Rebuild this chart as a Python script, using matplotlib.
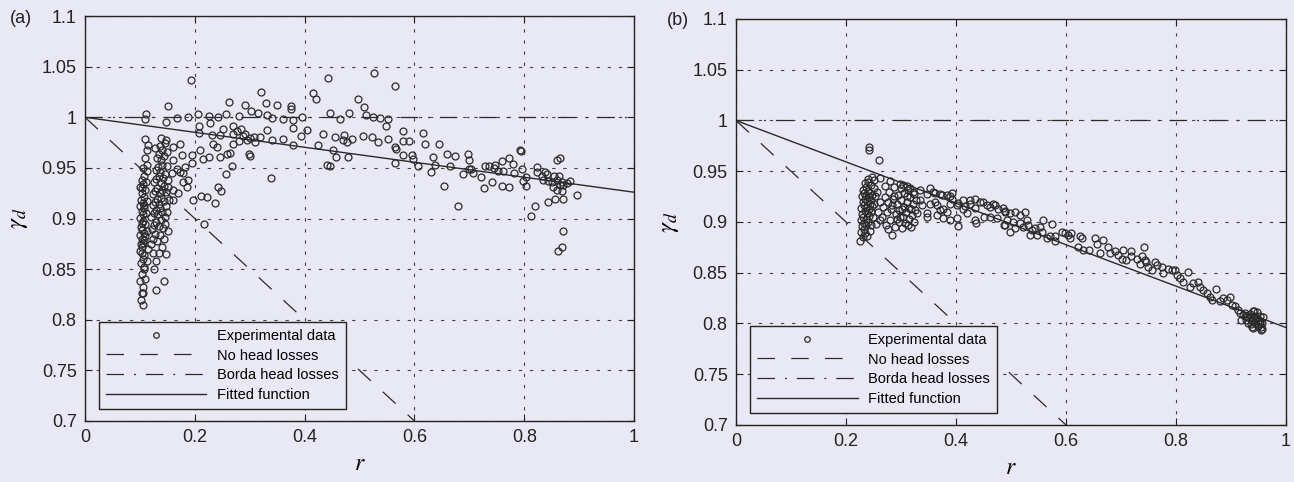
import numpy as np
import matplotlib.pyplot as plt

plt.rcParams['font.family'] = ['Liberation Sans', 'DejaVu Sans']
plt.rcParams['mathtext.fontset'] = 'stix'

# ---- theoretical / fitted curves
nohead_r = [0.0, 0.6]
nohead_g = [1.0, 0.7]
borda_r = [0.0, 1.0]
borda_g = [1.0, 1.0]
fit_r = [0.0, 1.0]
fit_a = [1.0, 0.926]
fit_b = [1.0, 0.796]

xticks = [0, 0.2, 0.4, 0.6, 0.8, 1]
xlabels = ['0', '0.2', '0.4', '0.6', '0.8', '1']
yticks = [0.7, 0.75, 0.8, 0.85, 0.9, 0.95, 1.0, 1.05, 1.1]
ylabels = ['0.7', '0.75', '0.8', '0.85', '0.9', '0.95', '1', '1.05', '1.1']

# ---- panel (a) experimental points (r, gamma_d)
a_col1 = [(0.102,0.820),(0.105,0.815),(0.103,0.826),(0.106,0.832),(0.101,0.838),(0.104,0.845),
          (0.107,0.850),(0.102,0.856),(0.105,0.860),(0.108,0.864),(0.101,0.868),(0.104,0.872),
          (0.106,0.876),(0.103,0.880),(0.100,0.884),(0.107,0.886),(0.104,0.889),(0.102,0.892),
          (0.109,0.895),(0.105,0.898),(0.101,0.901),(0.106,0.904),(0.103,0.907),(0.108,0.910),
          (0.100,0.912),(0.105,0.915),(0.102,0.918),(0.107,0.921),(0.104,0.925),(0.110,0.928),
          (0.101,0.931),(0.106,0.934),(0.103,0.938),(0.108,0.942),(0.112,0.947),(0.105,0.950),
          (0.113,0.953),(0.110,0.960),(0.112,0.968),(0.115,0.973),(0.109,0.979),(0.110,0.998),
          (0.111,1.003),(0.104,0.866),(0.108,0.879),(0.112,0.888),(0.111,0.905),(0.113,0.917),
          (0.111,0.936),(0.109,0.840),(0.106,0.826),(0.112,0.858),(0.114,0.870),(0.103,0.896),
          (0.107,0.913),(0.104,0.930),(0.109,0.883),(0.102,0.875),(0.108,0.852)]
a_col2 = [(0.120,0.875),(0.124,0.880),(0.128,0.885),(0.132,0.878),(0.136,0.884),(0.122,0.890),
          (0.126,0.894),(0.130,0.897),(0.134,0.893),(0.138,0.899),(0.142,0.891),(0.121,0.902),
          (0.125,0.905),(0.129,0.908),(0.133,0.904),(0.137,0.910),(0.141,0.906),(0.145,0.902),
          (0.123,0.913),(0.127,0.916),(0.131,0.919),(0.135,0.914),(0.139,0.920),(0.143,0.917),
          (0.147,0.912),(0.124,0.924),(0.128,0.927),(0.132,0.930),(0.136,0.925),(0.140,0.928),
          (0.144,0.932),(0.126,0.936),(0.130,0.939),(0.134,0.942),(0.138,0.935),(0.142,0.940),
          (0.146,0.944),(0.129,0.948),(0.133,0.951),(0.137,0.946),(0.141,0.953),(0.131,0.960),
          (0.135,0.964),(0.139,0.958),(0.143,0.962),(0.128,0.970),(0.136,0.972),(0.140,0.968),
          (0.145,0.975),(0.138,0.980),(0.147,0.978),(0.149,0.966),(0.150,0.952),(0.152,0.938),
          (0.148,0.926),(0.153,0.918),(0.149,0.906),(0.146,0.895),(0.151,0.888),(0.144,0.880),
          (0.140,0.872),(0.135,0.866),(0.130,0.858),(0.125,0.850),(0.143,0.838),(0.130,0.829),
          (0.147,0.865),(0.124,0.866)]
a_mid = [(0.152,1.011),(0.168,0.999),(0.148,0.995),(0.188,1.000),(0.206,1.003),(0.226,1.001),
         (0.243,1.000),(0.256,1.003),(0.263,1.015),(0.280,1.001),(0.291,1.012),(0.303,1.006),
         (0.315,1.004),(0.320,1.025),(0.329,1.014),(0.350,1.012),(0.375,1.011),(0.375,1.008),
         (0.331,1.002),(0.340,0.999),(0.361,0.998),(0.379,0.997),(0.395,1.000),(0.404,0.987),
         (0.394,0.982),(0.379,0.989),(0.193,1.037),(0.208,0.991),(0.208,0.985),(0.228,0.994),
         (0.232,0.983),(0.246,0.983),(0.251,0.988),(0.270,0.991),(0.270,0.984),(0.281,0.977),
         (0.291,0.984),(0.295,0.978),(0.307,0.981),(0.319,0.981),(0.331,0.987),(0.340,0.978),
         (0.361,0.979),(0.379,0.973),(0.194,0.963),(0.194,0.955),(0.209,0.968),(0.215,0.959),
         (0.226,0.961),(0.234,0.974),(0.240,0.971),(0.246,0.961),(0.258,0.964),(0.264,0.965),
         (0.267,0.952),(0.270,0.974),(0.299,0.964),(0.300,0.962),(0.179,0.945),(0.178,0.936),
         (0.188,0.938),(0.185,0.931),(0.197,0.918),(0.212,0.922),(0.222,0.921),(0.237,0.915),
         (0.243,0.931),(0.247,0.927),(0.257,0.944),(0.217,0.895),(0.338,0.940),(0.161,0.971),
         (0.173,0.974),(0.176,0.963),(0.182,0.951),(0.167,0.949),(0.161,0.958),(0.158,0.945),
         (0.173,0.946),(0.170,0.925),(0.161,0.928),(0.152,0.931),(0.161,0.918),(0.285,0.988),
         (0.288,0.982),(0.276,0.986),(0.300,0.980),(0.310,0.976)]
a_right = [(0.416,1.024),(0.421,1.018),(0.442,1.039),(0.498,1.018),(0.508,1.010),(0.512,1.002),
           (0.524,1.000),(0.537,0.999),(0.551,0.998),(0.549,0.991),(0.564,1.031),(0.526,1.044),
           (0.446,1.004),(0.464,0.998),(0.481,1.004),(0.433,0.984),(0.472,0.983),(0.486,0.979),
           (0.507,0.982),(0.522,0.981),(0.534,0.976),(0.552,0.979),(0.564,0.971),(0.440,0.953),
           (0.446,0.952),(0.458,0.961),(0.479,0.961),(0.564,0.955),(0.477,0.976),(0.425,0.973),
           (0.452,0.968),(0.470,0.978),(0.455,0.981),(0.580,0.986),(0.615,0.985),(0.580,0.977),
           (0.590,0.977),(0.620,0.974),(0.645,0.974),(0.566,0.969),(0.580,0.963),(0.595,0.963),
           (0.598,0.959),(0.607,0.952),(0.633,0.961),(0.638,0.953),(0.630,0.946),(0.659,0.964),
           (0.673,0.962),(0.665,0.952),(0.688,0.944),(0.653,0.932),(0.679,0.912),(0.698,0.964),
           (0.700,0.958),(0.699,0.949),(0.703,0.949),(0.707,0.945),(0.721,0.941),(0.727,0.930),
           (0.729,0.952),(0.735,0.952),(0.742,0.936),(0.744,0.950),(0.747,0.953),(0.753,0.947),
           (0.761,0.947),(0.759,0.957),(0.759,0.932),(0.773,0.931),(0.773,0.960),(0.780,0.954),
           (0.781,0.945),(0.792,0.968),(0.794,0.967),(0.795,0.949),(0.798,0.937),(0.803,0.932),
           (0.804,0.941),(0.813,0.903),(0.820,0.912),(0.823,0.951),(0.824,0.946),(0.832,0.942),
           (0.838,0.946),(0.842,0.944),(0.834,0.938),(0.844,0.937),(0.850,0.936),(0.844,0.916),
           (0.855,0.942),(0.859,0.938),(0.864,0.942),(0.868,0.936),(0.871,0.933),(0.877,0.935),
           (0.883,0.937),(0.865,0.933),(0.853,0.931),(0.860,0.928),(0.868,0.927),(0.856,0.919),
           (0.870,0.919),(0.860,0.958),(0.866,0.960),(0.896,0.923),(0.870,0.888),(0.868,0.872),
           (0.862,0.868)]

# ---- panel (b) experimental points (r, gamma_d)
b_col1 = [(0.226,0.881),(0.230,0.885),(0.228,0.890),(0.232,0.893),(0.235,0.889),(0.229,0.896),
          (0.233,0.899),(0.237,0.897),(0.227,0.902),(0.231,0.905),(0.236,0.903),(0.240,0.900),
          (0.229,0.908),(0.234,0.911),(0.238,0.909),(0.242,0.906),(0.228,0.914),(0.232,0.917),
          (0.236,0.915),(0.241,0.913),(0.245,0.910),(0.230,0.920),(0.234,0.923),(0.239,0.921),
          (0.243,0.918),(0.247,0.916),(0.229,0.926),(0.233,0.929),(0.237,0.927),(0.242,0.925),
          (0.246,0.922),(0.231,0.932),(0.236,0.934),(0.240,0.931),(0.244,0.929),(0.248,0.927),
          (0.235,0.938),(0.240,0.939),(0.245,0.936),(0.250,0.933),(0.252,0.926),(0.251,0.918),
          (0.249,0.905),(0.246,0.897),(0.243,0.891),(0.239,0.886),(0.241,0.974),(0.242,0.971),
          (0.260,0.961),(0.240,0.942),(0.248,0.944),(0.255,0.898),(0.258,0.910),(0.262,0.920),
          (0.256,0.930),(0.262,0.902)]
b_col2 = [(0.266,0.905),(0.268,0.915),(0.270,0.925),(0.272,0.897),(0.274,0.910),(0.276,0.920),
          (0.278,0.930),(0.280,0.902),(0.282,0.913),(0.284,0.887),(0.285,0.923),(0.287,0.934),
          (0.289,0.895),(0.290,0.908),(0.292,0.918),(0.294,0.927),(0.296,0.900),(0.297,0.912),
          (0.299,0.937),(0.300,0.922),(0.302,0.894),(0.303,0.905),(0.305,0.915),(0.306,0.929),
          (0.308,0.899),(0.309,0.910),(0.311,0.920),(0.312,0.932),(0.314,0.903),(0.315,0.914),
          (0.317,0.925),(0.318,0.895),(0.320,0.907),(0.321,0.918),(0.323,0.928),(0.324,0.900),
          (0.326,0.912),(0.327,0.922),(0.283,0.917),(0.293,0.903),(0.301,0.913),(0.310,0.926),
          (0.319,0.913),(0.288,0.926),(0.298,0.905),(0.313,0.897),(0.277,0.893),(0.271,0.935),
          (0.304,0.936),(0.316,0.933)]
b_mid = [(0.280,0.940),(0.300,0.933),(0.310,0.935),(0.322,0.930),(0.335,0.932),(0.347,0.928),
         (0.359,0.930),(0.371,0.928),(0.383,0.927),(0.392,0.929),(0.353,0.918),(0.365,0.917),
         (0.377,0.913),(0.389,0.918),(0.401,0.917),(0.413,0.913),(0.425,0.918),(0.435,0.923),
         (0.444,0.920),(0.456,0.917),(0.468,0.918),(0.477,0.913),(0.329,0.909),(0.347,0.905),
         (0.365,0.907),(0.377,0.904),(0.389,0.902),(0.401,0.904),(0.420,0.909),(0.435,0.902),
         (0.450,0.905),(0.462,0.905),(0.474,0.904),(0.353,0.933),(0.362,0.929),(0.374,0.927),
         (0.389,0.926),(0.392,0.923),(0.404,0.919),(0.413,0.922),(0.425,0.922),(0.416,0.916),
         (0.435,0.914),(0.449,0.920),(0.461,0.915),(0.471,0.917),(0.489,0.911),(0.436,0.899),
         (0.404,0.896),(0.489,0.897),(0.362,0.920),(0.371,0.912),(0.383,0.910),(0.347,0.909),
         (0.338,0.917),(0.335,0.922),(0.262,0.943),(0.250,0.941)]
b_band = [(0.486,0.914),(0.489,0.910),(0.498,0.909),(0.507,0.910),(0.516,0.907),(0.525,0.910),
          (0.492,0.902),(0.504,0.900),(0.516,0.899),(0.529,0.902),(0.487,0.897),(0.498,0.890),
          (0.507,0.894),(0.522,0.895),(0.531,0.897),(0.538,0.892),(0.544,0.894),(0.553,0.895),
          (0.559,0.902),(0.574,0.898),(0.535,0.887),(0.547,0.887),(0.556,0.890),(0.565,0.884),
          (0.571,0.886),(0.580,0.886),(0.580,0.881),(0.592,0.890),(0.598,0.889),(0.604,0.887),
          (0.610,0.889),(0.607,0.884),(0.625,0.886),(0.629,0.884),(0.622,0.875),(0.631,0.872),
          (0.641,0.872),(0.653,0.884),(0.656,0.878),(0.668,0.882),(0.662,0.869),(0.677,0.875),
          (0.680,0.869),(0.689,0.871),(0.695,0.867),(0.704,0.872),(0.701,0.864),(0.710,0.863),
          (0.719,0.871),(0.719,0.866),(0.729,0.864),(0.735,0.859),(0.741,0.875),(0.744,0.863),
          (0.750,0.856)]
b_end = [(0.739,0.866),(0.745,0.861),(0.757,0.853),(0.762,0.861),(0.765,0.858),(0.774,0.856),
         (0.777,0.850),(0.786,0.854),(0.792,0.853),(0.798,0.853),(0.801,0.848),(0.807,0.845),
         (0.813,0.841),(0.822,0.851),(0.825,0.836),(0.831,0.840),(0.840,0.841),(0.844,0.836),
         (0.850,0.833),(0.856,0.830),(0.862,0.826),(0.865,0.823),(0.873,0.834),(0.880,0.822),
         (0.886,0.825),(0.893,0.823),(0.898,0.826),(0.901,0.818),(0.907,0.817),(0.913,0.813),
         (0.916,0.810),(0.922,0.808),(0.928,0.807),(0.935,0.805),(0.940,0.812),(0.944,0.803),
         (0.950,0.802),(0.953,0.799),(0.956,0.795),(0.919,0.803),(0.931,0.800),(0.947,0.805),
         (0.938,0.797),(0.925,0.810),(0.930,0.806),(0.934,0.809),(0.938,0.803),(0.941,0.807),
         (0.944,0.800),(0.946,0.805),(0.949,0.798),(0.951,0.803),(0.953,0.801),(0.955,0.797),
         (0.957,0.800),(0.936,0.799),(0.942,0.812),(0.948,0.811),(0.952,0.807),(0.928,0.803),
         (0.954,0.794),(0.958,0.806),(0.940,0.796)]

bg = '#e9e9f5'
ink = '#2a2a2a'


def draw_panel(ax, pts, fit_g):
    ax.set_facecolor(bg)
    r, g = np.array(pts).T
    ax.plot(r, g, 'o', ms=5, mfc='none', mec=ink, mew=0.9, label='Experimental data', zorder=3)
    ax.plot(nohead_r, nohead_g, color=ink, lw=0.9, dashes=(14, 13), label='No head losses')
    ax.plot(borda_r, borda_g, color=ink, lw=0.9, dashes=(14, 8, 1.5, 8), label='Borda head losses')
    ax.plot(fit_r, fit_g, color=ink, lw=1.0, label='Fitted function')

    ax.set_xlim(0, 1)
    ax.set_ylim(0.7, 1.1)
    ax.set_xticks(xticks)
    ax.set_xticklabels(xlabels)
    ax.set_yticks(yticks)
    ax.set_yticklabels(ylabels)
    ax.tick_params(direction='in', top=True, right=True, length=5, labelsize=13,
                   colors='#222', pad=6)
    ax.grid(True, linestyle=(0, (3, 7)), linewidth=0.8, color='#444')
    ax.set_axisbelow(True)
    for s in ax.spines.values():
        s.set_linewidth(1.0)
        s.set_color('#222')

    ax.set_xlabel('$r$', fontsize=17, labelpad=5)
    ax.set_ylabel(r'$\gamma_d$', fontsize=18, labelpad=8)

    leg = ax.legend(loc='lower left', bbox_to_anchor=(0.026, 0.03), borderaxespad=0,
                    fontsize=10.5, numpoints=1, markerscale=0.8, handlelength=6.9,
                    fancybox=False, framealpha=1, facecolor=bg, edgecolor='#222',
                    borderpad=0.45, labelspacing=0.4, handletextpad=0.75)
    leg.get_frame().set_linewidth(1.0)


fig = plt.figure(figsize=(12.94, 4.82), dpi=100)
fig.patch.set_facecolor(bg)

axA = fig.add_axes([0.0657, 0.1266, 0.4243, 0.840])
axB = fig.add_axes([0.5688, 0.1183, 0.4250, 0.8423])

draw_panel(axA, a_col1 + a_col2 + a_mid + a_right, fit_a)
draw_panel(axB, b_col1 + b_col2 + b_mid + b_band + b_end, fit_b)

fig.text(0.008, 0.962, '(a)', fontsize=13, va='center', color='#222')
fig.text(0.5155, 0.958, '(b)', fontsize=13, va='center', color='#222')

fig.savefig('out.png', dpi=100, facecolor=bg)
